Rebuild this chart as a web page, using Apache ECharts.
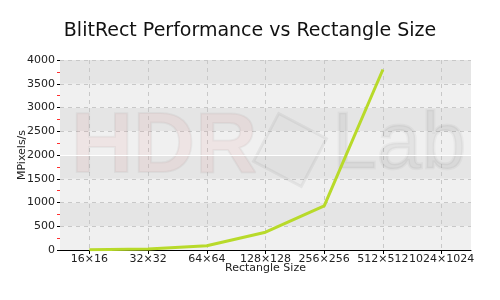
<!DOCTYPE html>
<html>
<head>
<meta charset="utf-8">
<script src="https://cdn.jsdelivr.net/npm/echarts@6/dist/echarts.min.js"></script>
<style>html,body{margin:0;padding:0;background:#fff}#c{width:500px;height:300px}</style>
</head>
<body>
<div id="c"></div>
<script>
const categories = ['16×16', '32×32', '64×64', '128×128', '256×256', '512×512', '1024×1024'];
const values = [5, 20, 90, 375, 930, 3800, null];
const yTicks = { min: 0, max: 4000, interval: 500 };

const chart = echarts.init(document.getElementById('c'), null, { renderer: 'canvas' });
const font = 'DejaVu Sans';
chart.setOption({
  animation: false,
  backgroundColor: '#ffffff',
  title: {
    text: 'BlitRect Performance vs Rectangle Size',
    left: 'center', top: 17,
    textStyle: { fontFamily: font, fontSize: 19, fontWeight: 'normal', color: '#111' }
  },
  grid: { left: 60, right: 29, top: 60, bottom: 50, containLabel: false, outerBoundsMode: 'none' },
  graphic: [
    { type: 'text', left: 70, top: 104, z: 5, silent: true,
      style: { text: 'HDR', font: 'bold 86px "Liberation Sans"', fill: 'rgba(225,110,110,0.09)', stroke: 'rgba(0,0,0,0.04)', lineWidth: 2 } },
    { type: 'text', left: 331, top: 104, z: 5, silent: true,
      style: { text: 'Lab', font: '80px "Liberation Sans"', fill: 'rgba(0,0,0,0.05)', stroke: 'rgba(0,0,0,0.03)', lineWidth: 3 } },
    { type: 'rect', x: 290, y: 150, rotation: Math.PI / 4 + 0.3, z: 5, silent: true,
      shape: { x: -27, y: -27, width: 54, height: 54 },
      style: { fill: 'rgba(0,0,0,0.02)', stroke: 'rgba(0,0,0,0.05)', lineWidth: 3 } }
  ],
  xAxis: {
    type: 'category',
    data: categories,
    boundaryGap: true,
    name: 'Rectangle Size',
    nameLocation: 'middle',
    nameGap: 13,
    nameMoveOverlap: false,
    nameTextStyle: { fontFamily: font, fontSize: 11, color: '#222' },
    axisLine: { show: true, lineStyle: { color: '#000', width: 1 } },
    axisTick: { show: true, alignWithLabel: true, length: 4, lineStyle: { color: '#000' } },
    axisLabel: { interval: 0, fontFamily: font, fontSize: 11, color: '#222', margin: 4 },
    splitLine: { show: true, alignWithLabel: true, interval: 0, lineStyle: { color: '#c8c8c8', type: [4, 4] } }
  },
  yAxis: {
    type: 'value',
    min: yTicks.min, max: yTicks.max, interval: yTicks.interval,
    name: 'MPixels/s',
    nameLocation: 'middle',
    nameGap: 32,
    nameMoveOverlap: false,
    nameTextStyle: { fontFamily: font, fontSize: 11, color: '#222' },
    axisLine: { show: false },
    axisTick: { show: true, length: 3, lineStyle: { color: '#000' } },
    minorTick: { show: true, splitNumber: 2, length: 3, lineStyle: { color: '#ff3030' } },
    axisLabel: { fontFamily: font, fontSize: 11, color: '#222', margin: 5, formatter: v => String(v) },
    splitLine: { show: true, lineStyle: { color: '#c8c8c8', type: [4, 4] } },
    splitArea: { show: true, areaStyle: { color: ['#f0f0f0', '#e5e5e5'] } }
  },
  series: [{
    type: 'line',
    data: values,
    showSymbol: false,
    symbol: 'none',
    z: 10,
    lineStyle: { color: '#b8da2a', width: 3 },
    markLine: {
      silent: true, symbol: 'none', label: { show: false },
      lineStyle: { color: '#ffffff', type: 'solid', width: 1 },
      data: [{ yAxis: 2000 }]
    }
  }]
});
</script>
</body>
</html>
